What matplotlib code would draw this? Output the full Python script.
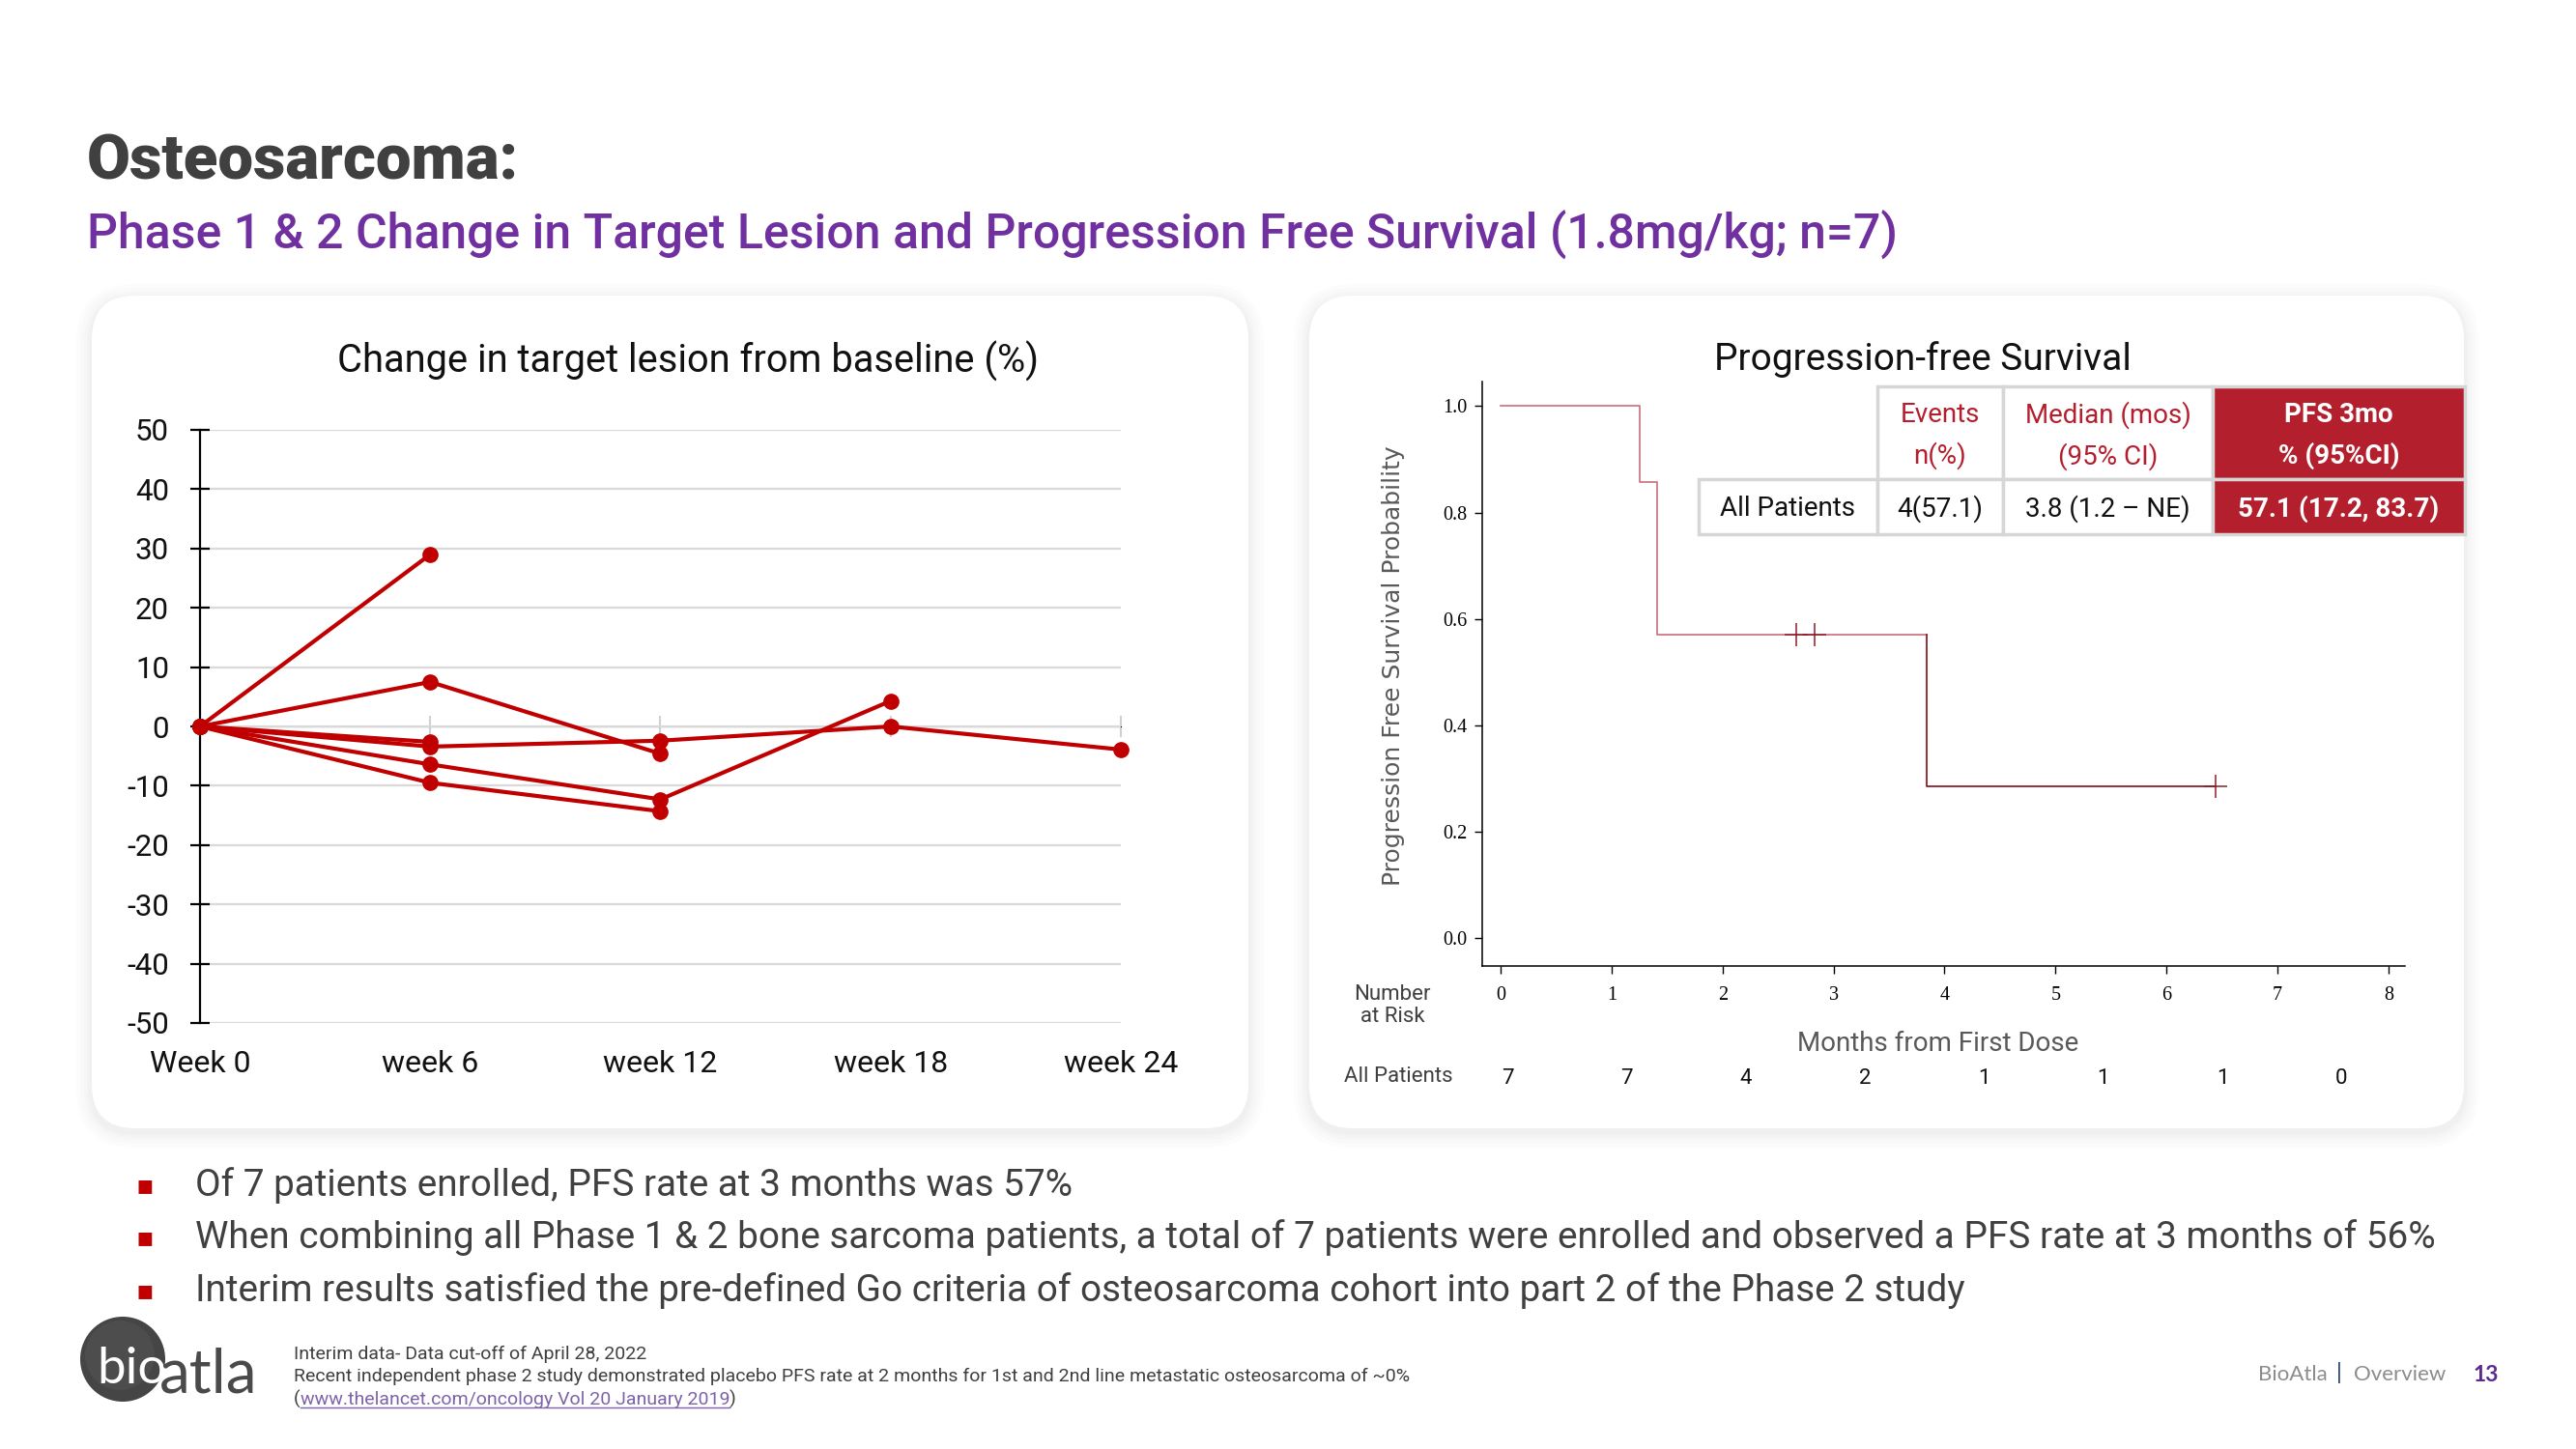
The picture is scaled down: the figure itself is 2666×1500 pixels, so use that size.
import numpy as np
import matplotlib
matplotlib.use('Agg')
import matplotlib.pyplot as plt
from matplotlib.patches import FancyBboxPatch, Rectangle, Circle

plt.rcParams['font.family'] = ['Roboto', 'DejaVu Sans']
plt.rcParams['axes.unicode_minus'] = False

W, H = 2666, 1500

# ---- data ----
weeks = [0, 6, 12, 18, 24]
week_labels = ['Week 0', 'week 6', 'week 12', 'week 18', 'week 24']
lesion_pt1 = [0, 29.0]
lesion_pt2 = [0, 7.5, -4.6]
lesion_pt3 = [0, -3.4, -2.4, 0.0, -3.9]
lesion_pt4 = [0, -6.4, -12.3, 4.3]
lesion_pt5 = [0, -9.5, -14.3]
lesion_pt6 = [0, -2.6]
lesion_series = [lesion_pt1, lesion_pt2, lesion_pt3, lesion_pt4, lesion_pt5, lesion_pt6]

km_time = [0, 1.25, 1.41, 3.84, 6.44]
km_surv = [1.0, 0.857, 0.571, 0.286, 0.286]
cens_time = [2.66, 2.83, 6.44]
cens_surv = [0.571, 0.571, 0.286]
risk_counts = [7, 7, 4, 2, 1, 1, 1, 0]

table_header = ['Events\nn(%)', 'Median (mos)\n(95% CI)', 'PFS 3mo\n% (95%CI)']
table_row = ['All Patients', '4(57.1)', '3.8 (1.2 \u2013 NE)', '57.1 (17.2, 83.7)']

bullets = [
    'Of 7 patients enrolled, PFS rate at 3 months was 57%',
    'When combining all Phase 1 & 2 bone sarcoma patients, a total of 7 patients were enrolled and observed a PFS rate at 3 months of 56%',
    'Interim results satisfied the pre-defined Go criteria of osteosarcoma cohort into part 2 of the Phase 2 study',
]
footnotes = [
    'Interim data- Data cut-off of April 28, 2022',
    'Recent independent phase 2 study demonstrated placebo PFS rate at 2 months for 1st and 2nd line metastatic osteosarcoma of ~0%',
]
link_text = 'www.thelancet.com/oncology Vol 20 January 2019'

RED = '#C00000'
DARK = '#404040'


def rect(x0, y0, x1, y1):
    return [x0 / W, 1 - y1 / H, (x1 - x0) / W, (y1 - y0) / H]


fig = plt.figure(figsize=(W / 100, H / 100), dpi=100)
fig.patch.set_facecolor('white')

# background layer in pixel coordinates
bg = fig.add_axes([0, 0, 1, 1], zorder=0)
bg.set_xlim(0, W)
bg.set_ylim(H, 0)
bg.axis('off')

# cards with a soft shadow
for cx0, cx1 in [(95, 1292), (1355, 2550)]:
    cy0, cy1 = 306, 1168
    for grow in [16, 12, 8, 5, 3]:
        bg.add_patch(FancyBboxPatch((cx0 - grow, cy0 - grow + 4), cx1 - cx0 + 2 * grow, cy1 - cy0 + 2 * grow,
                                    boxstyle='round,pad=0,rounding_size=%d' % (45 + grow),
                                    facecolor='black', alpha=0.012, edgecolor='none'))
    bg.add_patch(FancyBboxPatch((cx0, cy0), cx1 - cx0, cy1 - cy0,
                                boxstyle='round,pad=0,rounding_size=45',
                                facecolor='white', edgecolor='none'))

# titles
bg.text(90, 168, 'Osteosarcoma:', fontsize=47, fontweight='black', color=DARK, va='center')
bg.text(90, 243, 'Phase 1 & 2 Change in Target Lesion and Progression Free Survival (1.8mg/kg; n=7)',
        fontsize=36, fontweight='medium', color='#7030A0', va='center')

# ---- left chart: change in target lesion ----
ax1 = fig.add_axes(rect(207, 445, 1160, 1059), zorder=2)
ax1.patch.set_alpha(0)
for s in lesion_series:
    ax1.plot(weeks[:len(s)], s, color=RED, lw=3, marker='o', ms=11, clip_on=False, zorder=3)
ax1.set_xlim(0, 24)
ax1.set_ylim(-50, 50)
ax1.set_yticks(range(-50, 51, 10))
ax1.yaxis.grid(True, color='#d9d9d9', lw=1.6)
ax1.set_axisbelow(True)
for side in ['top', 'right', 'bottom']:
    ax1.spines[side].set_visible(False)
ax1.spines['left'].set_linewidth(1.6)
ax1.tick_params(axis='y', direction='inout', length=14, width=1.6, labelsize=22.5, pad=16, labelcolor='#111111')
ax1.set_xticks(weeks)
ax1.set_xticklabels(week_labels)
ax1.tick_params(axis='x', length=0, labelsize=23, pad=20, labelcolor='#111111')
zero_ax = ax1.secondary_xaxis(0.5)
zero_ax.set_xticks(weeks[1:])
zero_ax.set_xticklabels([])
zero_ax.tick_params(direction='inout', length=16, width=1.5, color='#d0d0d0')
zero_ax.spines['bottom'].set_color('#d9d9d9')
bg.text(712, 374, 'Change in target lesion from baseline (%)', fontsize=28.7, color='#111111',
        ha='center', va='center')

# ---- right chart: Kaplan-Meier ----
ax2 = fig.add_axes(rect(1534, 395, 2489, 1000), zorder=2)
ax2.patch.set_alpha(0)
split = 3
ax2.step(km_time[:split + 1], km_surv[:split] + [km_surv[split - 1]], where='post',
         color='#c9707a', lw=1.2)
ax2.plot([km_time[split], km_time[split], km_time[-1]],
         [km_surv[split - 1], km_surv[split], km_surv[-1]], color='#8b1f2b', lw=1.3)
ax2.plot(cens_time, cens_surv, ls='none', marker='+', ms=17, mew=1.1, color='#8b1f2b')
ax2.set_xlim(-0.167, 8.15)
ax2.set_ylim(-0.052, 1.046)
ax2.set_xticks(range(0, 9))
ax2.set_yticks(np.arange(0, 1.01, 0.2))
ax2.yaxis.set_major_formatter(matplotlib.ticker.FormatStrFormatter('%.1f'))
for side in ['top', 'right']:
    ax2.spines[side].set_visible(False)
for side in ['left', 'bottom']:
    ax2.spines[side].set_linewidth(1.1)
ax2.tick_params(axis='both', length=6, width=1.0, labelsize=14.5)
ax2.tick_params(axis='x', pad=9)
ax2.tick_params(axis='y', pad=5)
for lbl in ax2.get_xticklabels() + ax2.get_yticklabels():
    lbl.set_fontfamily('Liberation Serif')

bg.text(1990, 372, 'Progression-free Survival', fontsize=28, color='#111111', ha='center', va='center')
bg.text(1442, 689, 'Progression Free Survival Probability', fontsize=18, family='DejaVu Sans',
        color='#595959', rotation=90, ha='center', va='center')
bg.text(2006, 1081, 'Months from First Dose', fontsize=20, color='#595959', ha='center', va='center')
bg.text(1441, 1041, 'Number\nat Risk', fontsize=16, color=DARK, ha='center', va='center', linespacing=1.1)
bg.text(1447, 1114, 'All Patients', fontsize=16, color=DARK, ha='center', va='center')
risk_x = 0.06 + 1.074 * np.arange(len(risk_counts))
for rx, n in zip(risk_x, risk_counts):
    xd = ax2.transData.transform((rx, 0))[0]
    bg.text(xd, 1117, str(n), fontsize=16, color='#111111', ha='center', va='center')

# ---- summary table (on top) ----
ov = fig.add_axes([0, 0, 1, 1], zorder=5)
ov.set_xlim(0, W)
ov.set_ylim(H, 0)
ov.axis('off')
ov.patch.set_alpha(0)
col_x = [1758, 1943, 2073, 2290, 2551]
row_y = [400, 496, 553]
TRED = '#B41F2E'
GRID = '#d6d6d6'
for j in range(4):
    for i in range(2):
        if i == 0 and j == 0:
            continue
        fill = TRED if j == 3 else 'white'
        ov.add_patch(Rectangle((col_x[j], row_y[i]), col_x[j + 1] - col_x[j], row_y[i + 1] - row_y[i],
                               facecolor=fill, edgecolor=GRID, lw=2.5))
for j, txt in enumerate(table_header):
    xc = (col_x[j + 1] + col_x[j + 2]) / 2
    last = j == len(table_header) - 1
    ov.text(xc, 451, txt, fontsize=20, ha='center', va='center', linespacing=1.65,
            color='white' if last else TRED, fontweight='bold' if last else 'normal')
for j, txt in enumerate(table_row):
    xc = (col_x[j] + col_x[j + 1]) / 2
    last = j == len(table_row) - 1
    ov.text(xc, 527, txt, fontsize=20, ha='center', va='center',
            color='white' if last else '#111111', fontweight='bold' if last else 'normal')

# ---- bullets ----
for k, b in enumerate(bullets):
    y = 1227 + k * 54.5
    bg.text(150, y, '\u25aa', fontsize=20, color=RED, ha='center', va='center', family='DejaVu Sans')
    bg.text(202, y, b, fontsize=27.9, color=DARK, va='center')

# ---- footer ----
bg.add_patch(Circle((127, 1407), 44, facecolor='#454545', edgecolor='none'))
bg.add_patch(Circle((124, 1403), 36, facecolor='#555555', edgecolor='none', alpha=0.5))
bg.text(100, 1432, 'bio', fontsize=38, color='white', family='Lato', va='baseline')
bg.text(165, 1442, 'atla', fontsize=46, color='#4a4a4a', family='Lato', va='baseline')

for k, f in enumerate(footnotes):
    bg.text(304, 1407 + k * 23.5, f, fontsize=14, color=DARK, va='baseline')
r = fig.canvas.get_renderer()
t_open = bg.text(304, 1454, '(', fontsize=14, color=DARK, va='baseline')
x_link = t_open.get_window_extent(r).x1
t_link = bg.text(x_link, 1454, link_text, fontsize=14, color='#7f63a8', va='baseline')
bb = t_link.get_window_extent(r)
bg.plot([bb.x0, bb.x1], [1457, 1457], color='#7f63a8', lw=1)
bg.text(bb.x1, 1454, ')', fontsize=14, color=DARK, va='baseline')

bg.text(2337, 1423, 'BioAtla', fontsize=16, color='#8c8c8c', family='Lato', va='center')
bg.text(2421, 1421, '|', fontsize=17, color='#1f3864', family='Lato', va='center', ha='center')
bg.text(2436, 1423, 'Overview', fontsize=16, color='#8c8c8c', family='Lato', va='center')
bg.text(2560, 1423, '13', fontsize=16.5, color='#5b2c8f', fontweight='bold', family='Lato', va='center')

fig.savefig('out.png', dpi=100)
